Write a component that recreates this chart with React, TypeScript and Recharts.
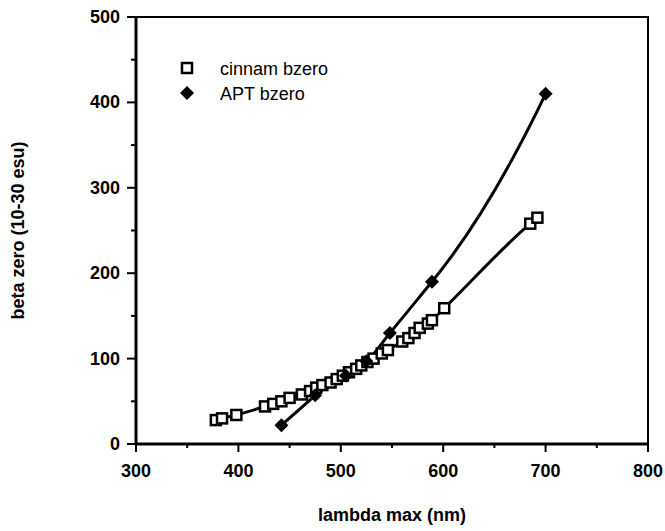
import { ComposedChart, Line, XAxis, YAxis, ReferenceArea, Legend, Label } from "recharts";

const cinnamLambda = [378, 384, 398, 426, 434, 442, 450, 462, 470, 476, 482, 490, 496, 502, 508, 515, 520, 526, 532, 540, 546, 560, 566, 572, 577, 585, 589, 601, 685, 692];
const cinnamBeta = [28, 30, 34, 44, 47, 50, 54, 58, 62, 66, 69, 72, 76, 80, 84, 88, 92, 96, 100, 106, 110, 120, 124, 130, 136, 141, 145, 159, 258, 265];

const aptLambda = [442, 475, 505, 525, 548, 589, 700];
const aptBeta = [22, 57, 80, 97, 130, 190, 410];

const xTicks = [300, 350, 400, 450, 500, 550, 600, 650, 700, 750, 800];
const yTicks = [0, 50, 100, 150, 200, 250, 300, 350, 400, 450, 500];

const cinnamData = cinnamLambda.map((x, i) => ({ x, y: cinnamBeta[i] }));
const aptData = aptLambda.map((x, i) => ({ x, y: aptBeta[i] }));

const FONT = "'Liberation Sans', Arial, sans-serif";

// smooth curve: hermite segments, tangent at each point taken from the incoming segment
function leftSlopeCurve(context: any) {
  let xs: number[] = [];
  let ys: number[] = [];
  return {
    areaStart() {},
    areaEnd() {},
    lineStart() {
      xs = [];
      ys = [];
    },
    point(x: number, y: number) {
      xs.push(+x);
      ys.push(+y);
    },
    lineEnd() {
      const n = xs.length;
      if (!n) return;
      context.moveTo(xs[0], ys[0]);
      if (n === 1) return;
      const s: number[] = [];
      for (let i = 0; i < n - 1; i++) s.push((ys[i + 1] - ys[i]) / (xs[i + 1] - xs[i] || 1));
      const m: number[] = [s[0]];
      for (let i = 1; i < n - 1; i++) m.push(s[i - 1]);
      m.push(n > 2 ? 2 * s[n - 2] - m[n - 2] : s[0]);
      for (let i = 0; i < n - 1; i++) {
        const h = (xs[i + 1] - xs[i]) / 3;
        context.bezierCurveTo(xs[i] + h, ys[i] + m[i] * h, xs[i + 1] - h, ys[i + 1] - m[i + 1] * h, xs[i + 1], ys[i + 1]);
      }
    },
  };
}

function Square(props: any) {
  const { cx, cy } = props;
  if (cx == null || cy == null) return null;
  return <rect x={cx - 5} y={cy - 5} width={10} height={10} fill="#fff" stroke="#000" strokeWidth={2.5} />;
}

function Diamond(props: any) {
  const { cx, cy } = props;
  if (cx == null || cy == null) return null;
  return <path d={`M${cx},${cy - 7}L${cx + 7},${cy}L${cx},${cy + 7}L${cx - 7},${cy}Z`} fill="#000" />;
}

function XTick(props: any) {
  const { x, y, payload } = props;
  const major = payload.value % 100 === 0;
  return (
    <g>
      <line x1={x} y1={y} x2={x} y2={y + (major ? 8 : 4)} stroke="#000" strokeWidth={2} />
      {major && (
        <text x={x} y={y + 33} textAnchor="middle" fontSize={18} fontWeight="bold" fontFamily={FONT} fill="#000">
          {payload.value}
        </text>
      )}
    </g>
  );
}

function YTick(props: any) {
  const { x, y, payload } = props;
  const major = payload.value % 100 === 0;
  return (
    <g>
      <line x1={x} y1={y} x2={x - (major ? 9 : 5)} y2={y} stroke="#000" strokeWidth={2} />
      {major && (
        <text x={x - 16} y={y + 6} textAnchor="end" fontSize={18} fontWeight="bold" fontFamily={FONT} fill="#000">
          {payload.value}
        </text>
      )}
    </g>
  );
}

function LegendBox() {
  return (
    <svg width={200} height={60} style={{ fontFamily: FONT, display: "block" }}>
      <rect x={7} y={8} width={10} height={10} fill="#fff" stroke="#000" strokeWidth={2.5} />
      <text x={45} y={20} fontSize={18} fill="#000">cinnam bzero</text>
      <path d="M12,31L19,38L12,45L5,38Z" fill="#000" />
      <text x={45} y={45} fontSize={18} fill="#000">APT bzero</text>
    </svg>
  );
}

export default function App() {
  return (
    <div style={{ position: "absolute", left: 0, top: 0, background: "#fff" }}>
      <ComposedChart width={665} height={531} margin={{ top: 17, right: 17, bottom: 0, left: 0 }}>
        <XAxis
          type="number"
          dataKey="x"
          domain={[300, 800]}
          ticks={xTicks}
          interval={0}
          tickSize={0}
          tickMargin={0}
          tickLine={false}
          tick={<XTick />}
          height={87}
          axisLine={{ stroke: "#000", strokeWidth: 3 }}
          allowDuplicatedCategory={false}
        >
          <Label value="lambda max (nm)" position="insideBottom" offset={10} style={{ fontSize: 18, fontWeight: "bold", fontFamily: FONT, fill: "#000" }} />
        </XAxis>
        <YAxis
          type="number"
          dataKey="y"
          domain={[0, 500]}
          ticks={yTicks}
          interval={0}
          tickSize={0}
          tickMargin={0}
          tickLine={false}
          tick={<YTick />}
          width={136}
          axisLine={{ stroke: "#000", strokeWidth: 3 }}
        >
          <Label value="beta zero (10-30 esu)" angle={-90} position="insideLeft" offset={18} style={{ fontSize: 18, fontWeight: "bold", fontFamily: FONT, fill: "#000", textAnchor: "middle" }} />
        </YAxis>
        <ReferenceArea x1={300} x2={800} y1={0} y2={500} fill="none" stroke="#000" strokeWidth={2} ifOverflow="visible" />
        <Legend
          layout="vertical"
          verticalAlign="middle"
          align="center"
          wrapperStyle={{ left: 175, top: 55, width: 200, height: 60 }}
          content={() => <LegendBox />}
        />
        <Line
          data={cinnamData}
          dataKey="y"
          name="cinnam bzero"
          type="monotone"
          stroke="#000"
          strokeWidth={3}
          dot={<Square />}
          activeDot={false}
          isAnimationActive={false}
        />
        <Line
          data={aptData}
          dataKey="y"
          name="APT bzero"
          type={leftSlopeCurve as any}
          stroke="#000"
          strokeWidth={3}
          dot={<Diamond />}
          activeDot={false}
          isAnimationActive={false}
        />
      </ComposedChart>
    </div>
  );
}
